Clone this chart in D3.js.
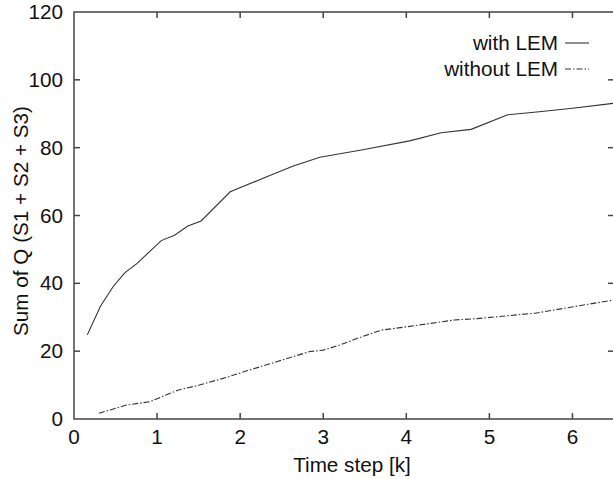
<!DOCTYPE html>
<html>
<head>
<meta charset="utf-8">
<script src="https://cdn.jsdelivr.net/npm/d3@7"></script>
<style>
  html, body { margin: 0; padding: 0; background: #fff; }
  svg { display: block; }
  text { font-family: "Liberation Sans", Arial, Helvetica, sans-serif; fill: #111; }
</style>
</head>
<body>
<svg id="chart" width="613" height="479"></svg>
<script>
// Cumulative Q over time, with and without LEM
const withLemX = [0.16, 0.32, 0.47, 0.61, 0.76, 1.05, 1.21, 1.37, 1.53, 1.88, 2.32, 2.64, 2.96, 3.46, 4.04, 4.42, 4.78, 5.22, 5.6, 6.0, 6.5];
const withLemY = [24.8, 33.3, 39.0, 43.1, 45.9, 52.6, 54.2, 56.9, 58.4, 67.0, 71.4, 74.6, 77.2, 79.3, 82.0, 84.4, 85.4, 89.7, 90.6, 91.6, 93.1];

const withoutLemX = [0.30, 0.63, 0.91, 1.25, 1.51, 1.84, 2.08, 2.44, 2.84, 3.0, 3.2, 3.41, 3.70, 4.01, 4.58, 4.85, 5.55, 5.77, 6.5];
const withoutLemY = [1.7, 4.1, 5.1, 8.5, 10.0, 12.3, 14.2, 16.9, 19.9, 20.3, 21.8, 23.8, 26.2, 27.2, 29.2, 29.6, 31.2, 32.1, 35.1];

const xTicks = [0, 1, 2, 3, 4, 5, 6];
const yTicks = [0, 20, 40, 60, 80, 100, 120];
const seriesNames = ["with LEM", "without LEM"];

const svg = d3.select("#chart");
const plotLeft = 74, plotTop = 12, plotRight = 614, plotBottom = 419;

const x = d3.scaleLinear().domain([0, 6.5]).range([plotLeft, plotRight]);
const y = d3.scaleLinear().domain([0, 120]).range([plotBottom, plotTop]);

const axisColor = "#444";
const fontSize = 20.7;

// frame
svg.append("rect")
  .attr("x", plotLeft).attr("y", plotTop)
  .attr("width", plotRight - plotLeft).attr("height", plotBottom - plotTop)
  .attr("fill", "none").attr("stroke", axisColor).attr("stroke-width", 1.5);

// inward ticks on all four sides
const tickLen = 6;
const innerX = xTicks.filter(d => d > 0);
const innerY = yTicks.filter(d => d > 0 && d < 120);
const tg = svg.append("g").attr("stroke", axisColor).attr("stroke-width", 1.5);
tg.selectAll(".tb").data(innerX).enter().append("line")
  .attr("x1", d => x(d)).attr("x2", d => x(d))
  .attr("y1", plotBottom).attr("y2", plotBottom - tickLen);
tg.selectAll(".tt").data(innerX).enter().append("line")
  .attr("x1", d => x(d)).attr("x2", d => x(d))
  .attr("y1", plotTop).attr("y2", plotTop + tickLen);
tg.selectAll(".tl").data(innerY).enter().append("line")
  .attr("x1", plotLeft).attr("x2", plotLeft + tickLen)
  .attr("y1", d => y(d)).attr("y2", d => y(d));
tg.selectAll(".tr").data(innerY).enter().append("line")
  .attr("x1", plotRight).attr("x2", plotRight - tickLen)
  .attr("y1", d => y(d)).attr("y2", d => y(d));

// tick labels
svg.selectAll(".xl").data(xTicks).enter().append("text")
  .attr("x", d => x(d)).attr("y", 444)
  .attr("text-anchor", "middle").attr("font-size", fontSize)
  .text(d => d);
svg.selectAll(".yl").data(yTicks).enter().append("text")
  .attr("x", 63).attr("y", d => y(d) + 7)
  .attr("text-anchor", "end").attr("font-size", fontSize)
  .text(d => d);

// axis titles
svg.append("text")
  .attr("x", 352).attr("y", 472)
  .attr("text-anchor", "middle").attr("font-size", fontSize)
  .text("Time step [k]");
svg.append("text")
  .attr("transform", "translate(28,221) rotate(-90)")
  .attr("text-anchor", "middle").attr("font-size", fontSize)
  .text("Sum of Q (S1 + S2 + S3)");

// lines
const line = d3.line().x(d => x(d[0])).y(d => y(d[1]));
const withData = withLemX.map((v, i) => [v, withLemY[i]]);
const withoutData = withoutLemX.map((v, i) => [v, withoutLemY[i]]);
const lineColor = "#333";
const dashes = [null, "6,2,1.5,2"];

svg.append("path").datum(withData)
  .attr("d", line).attr("fill", "none")
  .attr("stroke", lineColor).attr("stroke-width", 1.1);
svg.append("path").datum(withoutData)
  .attr("d", line).attr("fill", "none")
  .attr("stroke", lineColor).attr("stroke-width", 1.1)
  .attr("stroke-dasharray", dashes[1]);

// legend
const legY = [43, 69];
seriesNames.forEach((name, i) => {
  svg.append("text")
    .attr("x", 558).attr("y", legY[i] + 7)
    .attr("text-anchor", "end").attr("font-size", fontSize)
    .text(name);
  const l = svg.append("line")
    .attr("x1", 565).attr("x2", 589)
    .attr("y1", legY[i]).attr("y2", legY[i])
    .attr("stroke", lineColor).attr("stroke-width", 1.1);
  if (dashes[i]) l.attr("stroke-dasharray", dashes[i]);
});
</script>
</body>
</html>
